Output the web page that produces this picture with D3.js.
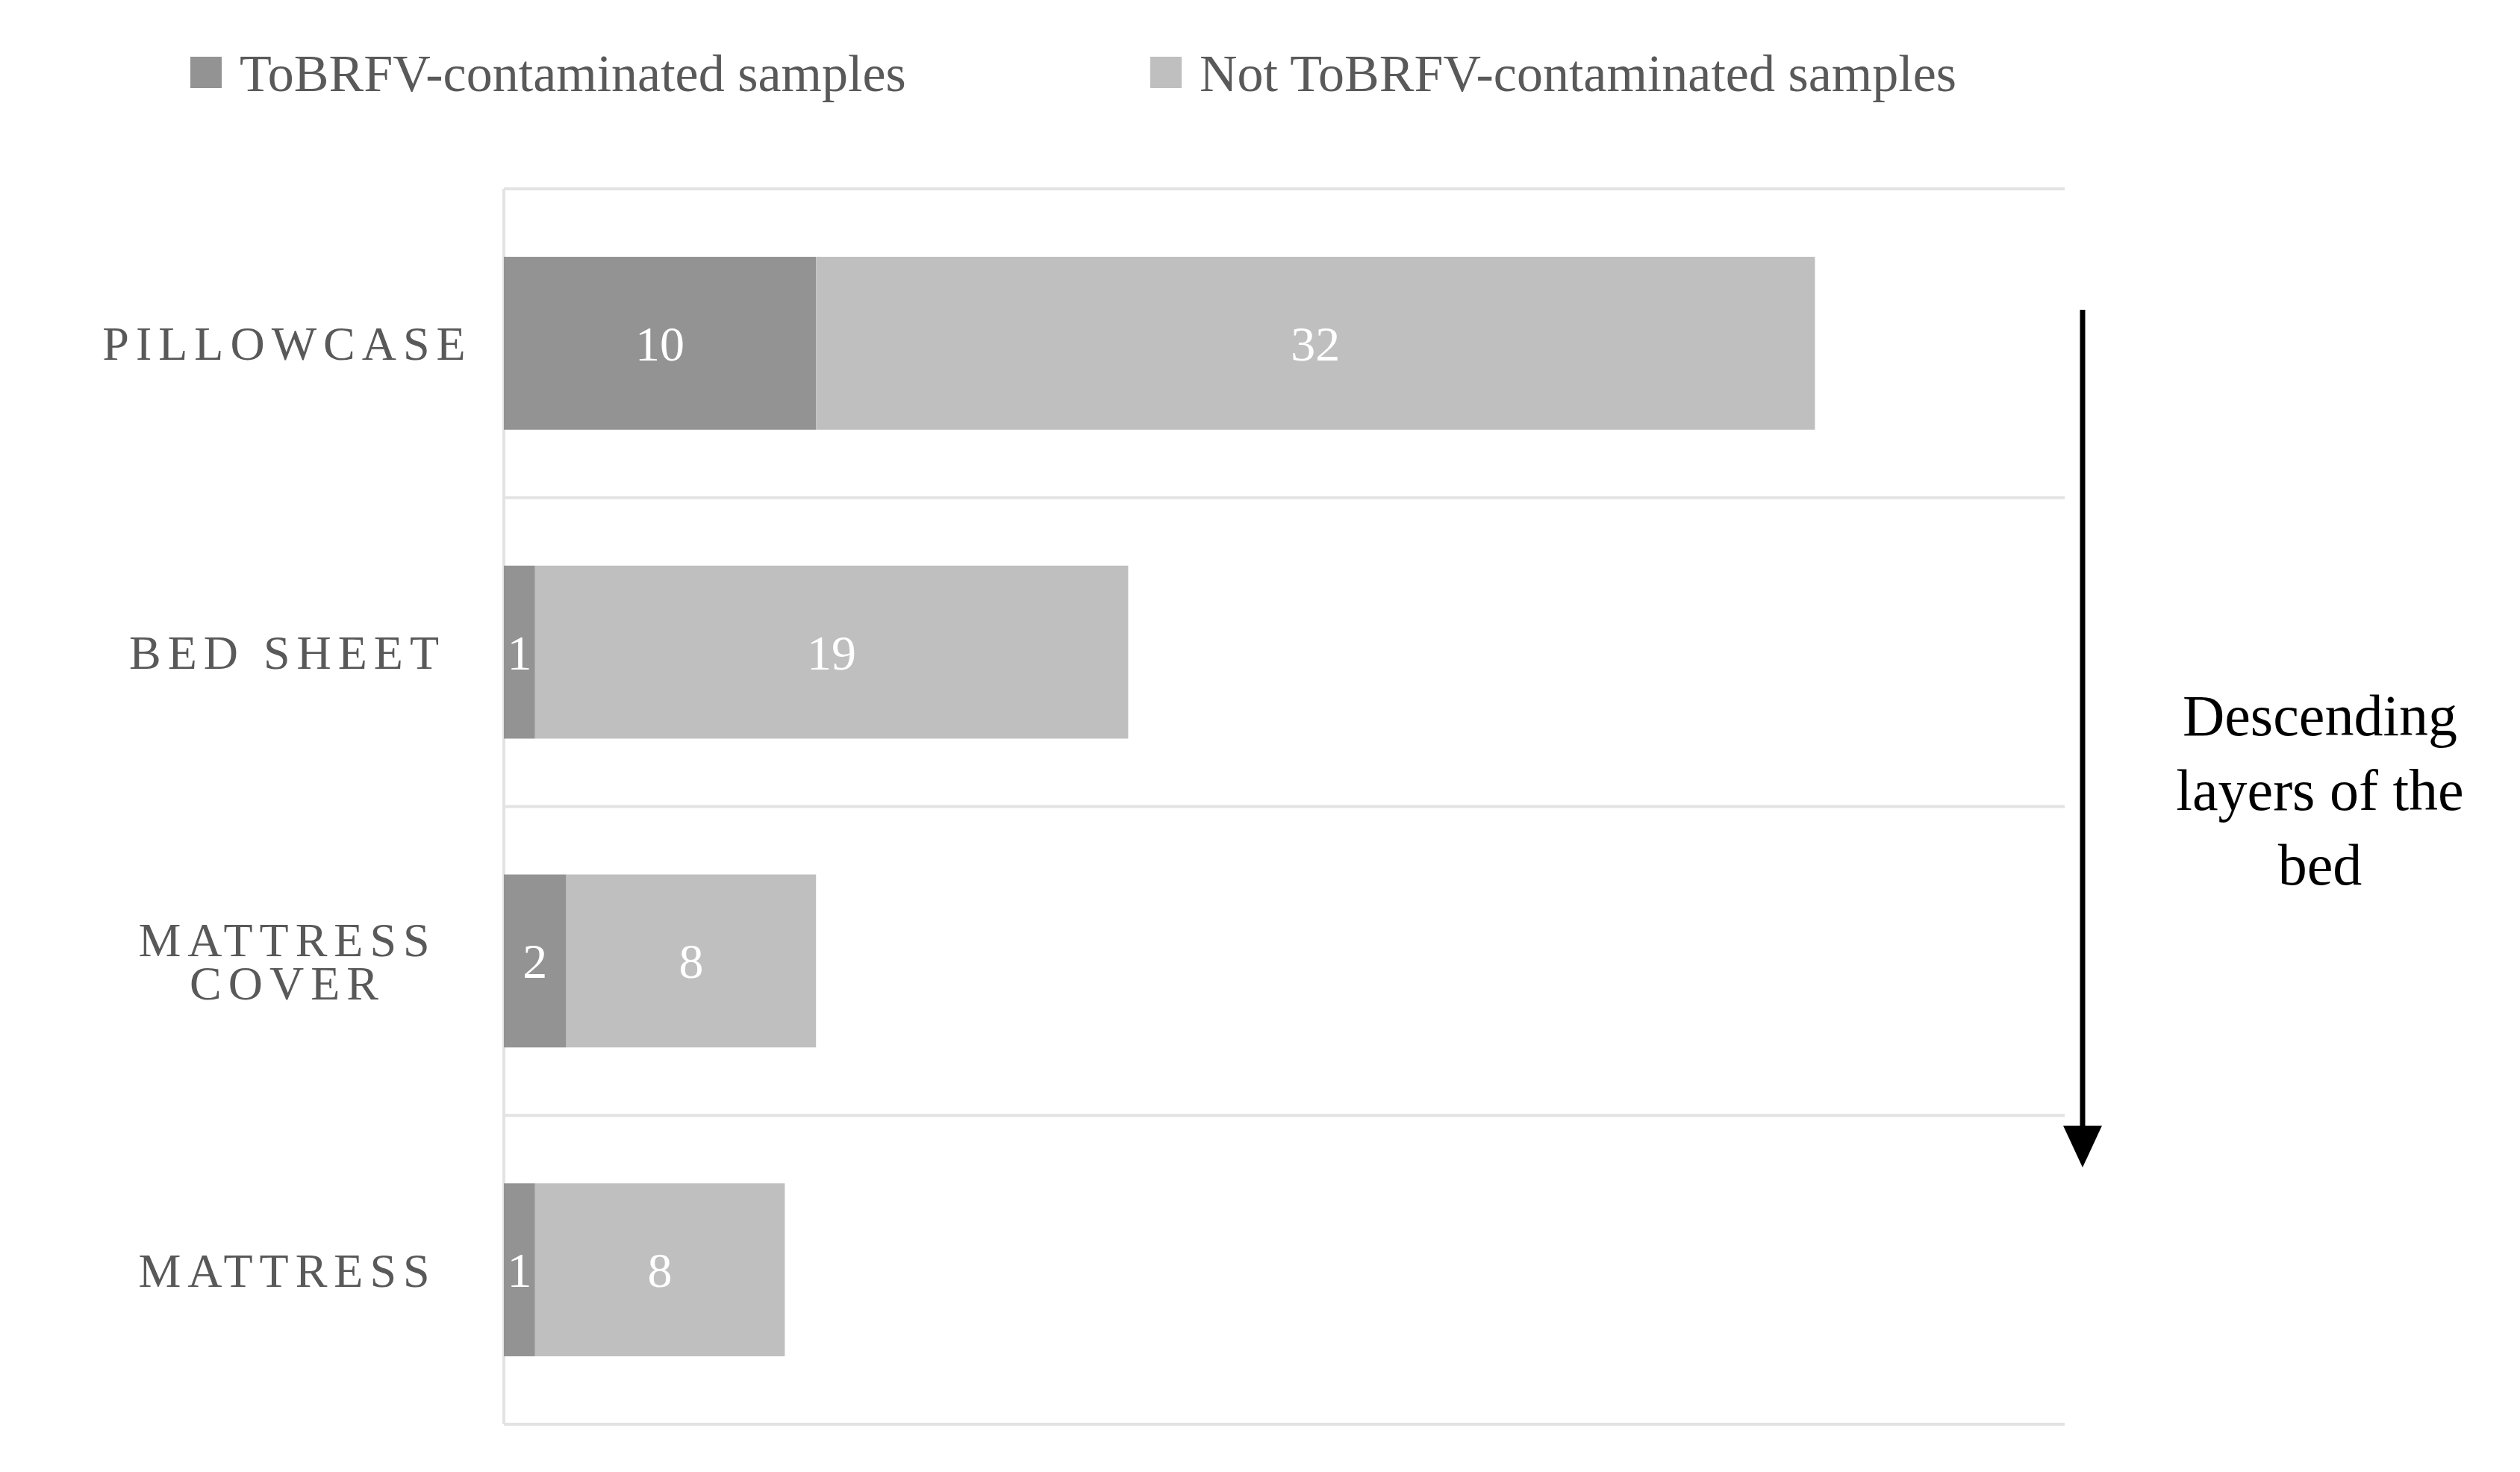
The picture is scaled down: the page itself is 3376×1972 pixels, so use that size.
<!DOCTYPE html>
<html><head><meta charset="utf-8">
<script src="https://cdn.jsdelivr.net/npm/d3@7"></script>
<style>body{margin:0;background:#fff}</style></head>
<body><svg id="chart"></svg>
<script>
const categories = ["PILLOWCASE", "BED SHEET", "MATTRESS COVER", "MATTRESS"];
const contaminated = [10, 1, 2, 1];
const notContaminated = [32, 19, 8, 8];
const seriesNames = ["ToBRFV-contaminated samples", "Not ToBRFV-contaminated samples"];
const colors = ["#939393", "#bfbfbf"];

const width = 3376, height = 1972;
const plotLeft = 675, plotRight = 2766, plotTop = 253, plotBottom = 1908;
const font = "'Liberation Serif', 'DejaVu Serif', serif";

const svg = d3.select("#chart").attr("width", width).attr("height", height);

const x = d3.scaleLinear().domain([0, 50]).range([plotLeft, plotRight]);
const y = d3.scaleBand().domain(categories).range([plotTop, plotBottom]).paddingInner(0.44).paddingOuter(0.22);

// grid lines at band boundaries
const step = (plotBottom - plotTop) / categories.length;
const gridYs = d3.range(categories.length + 1).map(i => plotTop + i * step);
svg.selectAll("line.grid").data(gridYs).join("line")
  .attr("x1", plotLeft).attr("x2", plotRight).attr("y1", d => d).attr("y2", d => d)
  .attr("stroke", "#e3e3e3").attr("stroke-width", 4);
svg.append("line").attr("x1", plotLeft).attr("x2", plotLeft).attr("y1", plotTop).attr("y2", plotBottom)
  .attr("stroke", "#e3e3e3").attr("stroke-width", 4);

const rows = categories.map((c, i) => ({ c, a: contaminated[i], b: notContaminated[i] }));
const stack = d3.stack().keys(["a", "b"])(rows);

stack.forEach((s, si) => {
  const g = svg.append("g");
  g.selectAll("rect").data(s).join("rect")
    .attr("x", d => x(d[0])).attr("width", d => x(d[1]) - x(d[0]))
    .attr("y", d => y(d.data.c)).attr("height", y.bandwidth())
    .attr("fill", colors[si]);
  g.selectAll("text").data(s).join("text")
    .attr("x", d => (x(d[0]) + x(d[1])) / 2)
    .attr("y", d => y(d.data.c) + y.bandwidth() / 2)
    .attr("dy", "0.35em").attr("text-anchor", "middle")
    .attr("fill", "#fff").attr("font-family", font).attr("font-size", 66)
    .text(d => d[1] - d[0]);
});

// category labels
svg.selectAll("text.cat").data(categories).join("text")
  .attr("class", "cat")
  .attr("font-family", font).attr("font-size", 64).attr("fill", "#595959")
  .attr("letter-spacing", 9).attr("text-anchor", "middle")
  .each(function (d) {
    const t = d3.select(this);
    const words = d === "MATTRESS COVER" ? ["MATTRESS", "COVER"] : [d];
    const cy = y(d) + y.bandwidth() / 2;
    words.forEach((w, i) => {
      t.append("tspan").attr("x", 385)
        .attr("y", cy + (i - (words.length - 1) / 2) * 58)
        .attr("dy", "0.35em").text(w);
    });
  });

// legend
const legendX = [255, 1541];
seriesNames.forEach((n, i) => {
  svg.append("rect").attr("x", legendX[i]).attr("y", 76).attr("width", 42).attr("height", 42).attr("fill", colors[i]);
  svg.append("text").attr("x", legendX[i] + 66).attr("y", 97).attr("dy", "0.35em")
    .attr("font-family", font).attr("font-size", 70).attr("fill", "#595959").text(n);
});

// arrow
svg.append("line").attr("x1", 2790).attr("x2", 2790).attr("y1", 415).attr("y2", 1515)
  .attr("stroke", "#000").attr("stroke-width", 7);
svg.append("path").attr("d", "M2764,1508 L2816,1508 L2790,1564 Z").attr("fill", "#000");

const note = ["Descending", "layers of the", "bed"];
svg.selectAll("text.note").data(note).join("text")
  .attr("x", 3108).attr("y", (d, i) => 958 + i * 100).attr("dy", "0.35em")
  .attr("text-anchor", "middle").attr("font-family", font).attr("font-size", 78)
  .attr("fill", "#000").text(d => d);
</script></body></html>
